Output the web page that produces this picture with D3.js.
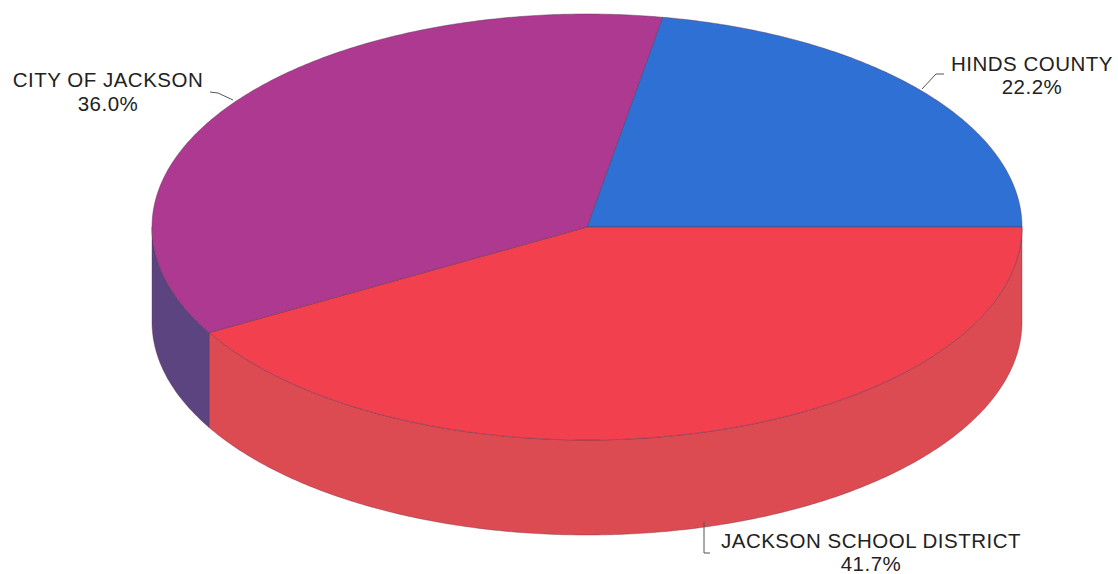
<!DOCTYPE html>
<html><head><meta charset="utf-8">
<script src="https://cdn.jsdelivr.net/npm/d3@7"></script>
<style>body{margin:0;background:#fff}svg{display:block}</style>
</head><body>
<svg id="c" width="1118" height="574"></svg>
<script>
const categories = ["HINDS COUNTY", "JACKSON SCHOOL DISTRICT", "CITY OF JACKSON"];
const values = [22.2, 41.7, 36.0];
const pctLabels = ["22.2%", "41.7%", "36.0%"];
const topColors = ["#2e70d4", "#f2404f", "#ad3a90"];
const sideColors = ["#2456a8", "#dc4a52", "#5b447f"];

const W = 1118, H = 574;
const cx = 587, cy = 227, rx = 435, ry = 213, depth = 95;
const svg = d3.select("#c");

const pie = d3.pie().sort(null).value(d => d)
  .startAngle(10 * Math.PI / 180).endAngle(10 * Math.PI / 180 + 2 * Math.PI);
const arcs = pie(values);

const pt = (t, dy = 0) => [cx + rx * Math.cos(t), cy + ry * Math.sin(t) + dy];
function edge(t0, t1, dy) {
  const n = Math.max(2, Math.ceil(Math.abs(t1 - t0) / 0.01));
  return d3.range(n + 1).map(i => pt(t0 + (t1 - t0) * i / n, dy));
}
const line = d3.line();

// sides
arcs.forEach((a, i) => {
  let t0 = a.startAngle - Math.PI / 2, t1 = a.endAngle - Math.PI / 2;
  [[0, Math.PI], [2 * Math.PI, 3 * Math.PI], [-2 * Math.PI, -Math.PI]].forEach(([lo, hi]) => {
    const s = Math.max(t0, lo), e = Math.min(t1, hi);
    if (e > s) {
      const pts = edge(s, e, 0).concat(edge(e, s, depth));
      svg.append("path").attr("d", line(pts) + "Z")
        .attr("fill", sideColors[i]).attr("stroke", "#6a3040").attr("stroke-width", 0.7)
        .attr("stroke-opacity", 0.55);
    }
  });
});

// tops
arcs.forEach((a, i) => {
  const t0 = a.startAngle - Math.PI / 2, t1 = a.endAngle - Math.PI / 2;
  const pts = [[cx, cy]].concat(edge(t0, t1, 0));
  svg.append("path").attr("d", line(pts) + "Z")
    .attr("fill", topColors[i]).attr("stroke", "#5a3050").attr("stroke-width", 0.8)
    .attr("stroke-opacity", 0.55);
});

// labels
const font = "'Liberation Sans', Arial, sans-serif";
const labelPos = [
  {x: 1032, y: 71, dy: 23, lead: [[944, 74], [936, 74], [922, 89]]},
  {x: 871, y: 548, dy: 23, lead: [[704, 522], [704, 553], [710, 553]]},
  {x: 108, y: 87, dy: 24, lead: [[210, 92], [218, 93], [233, 100]]}
];
arcs.forEach((a, i) => {
  const L = labelPos[i];
  svg.append("path").attr("d", line(L.lead)).attr("fill", "none")
    .attr("stroke", "#555").attr("stroke-width", 1);
  const t = svg.append("text").attr("x", L.x).attr("y", L.y)
    .attr("text-anchor", "middle").attr("font-family", font).attr("font-size", 20.5)
    .attr("letter-spacing", 0.5).attr("fill", "#222");
  t.append("tspan").attr("x", L.x).text(categories[i]);
  t.append("tspan").attr("x", L.x).attr("dy", L.dy).text(pctLabels[i]);
});
</script>
</body></html>
